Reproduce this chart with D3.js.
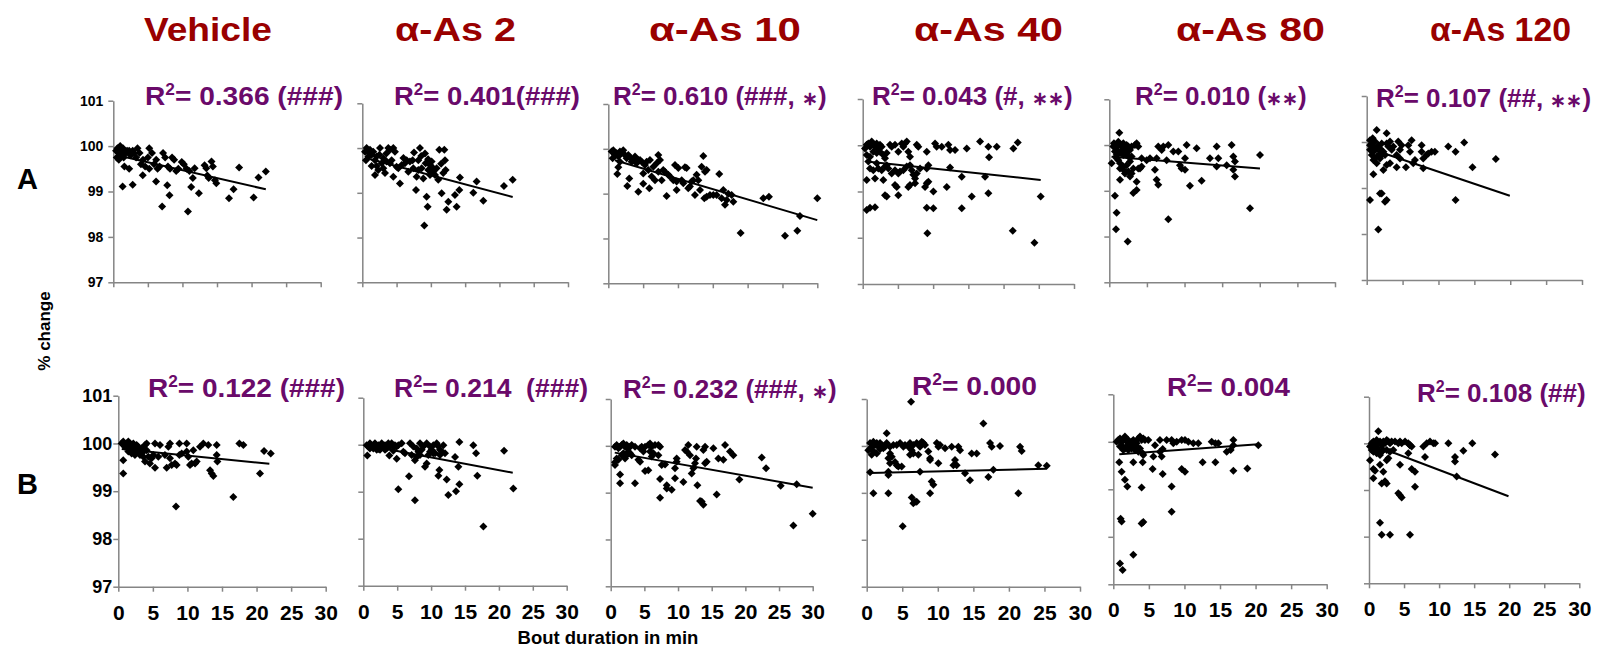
<!DOCTYPE html>
<html>
<head>
<meta charset="utf-8">
<script src="https://cdn.jsdelivr.net/npm/d3@7"></script>
<style>
  body { margin: 0; background: #fff; }
  svg { display: block; font-family: "Liberation Sans", Arial, sans-serif; font-weight: bold; }
</style>
</head>
<body>
<div id="chart"></div>
<script>
// Column titles, row labels and R² annotations
const titles = ["Vehicle", "α-As 2", "α-As 10", "α-As 40", "α-As 80", "α-As 120"];
const rowLabels = ["A", "B"];
const r2A = ["= 0.366 (###)", "= 0.401(###)", "= 0.610 (###, ∗)", "= 0.043 (#, ∗∗)", "= 0.010 (∗∗)", "= 0.107 (##, ∗∗)"];
const r2B = ["= 0.122 (###)", "= 0.214  (###)", "= 0.232 (###, ∗)", "= 0.000", "= 0.004", "= 0.108 (##)"];
const xTicks = [0, 5, 10, 15, 20, 25, 30];
const yTicks = [97, 98, 99, 100, 101];

// Trend lines: [intercept, slope, xFrom, xTo]
const fitsA = [[99.82, -0.035, 0.4, 22.06], [99.80, -0.0408, 0.4, 21.93], [99.79, -0.046, 0.96, 30],
               [99.66, -0.0162, 0.57, 25.27], [99.75, -0.0132, 0.3, 20.03], [99.88, -0.0526, 0.5, 19.94]];
const fitsB = [[99.89, -0.0145, 0.5, 21.85], [100.0, -0.027, 0.5, 22.04], [99.87, -0.0255, 0.6, 30],
               [99.42, 0.0036, 0.47, 25.32], [99.73, 0.0107, 0.84, 20.39], [100.0, -0.057, 0.14, 19.9]];

// Scatter points [bout duration (min), % change]
const vehA = [[0.4,99.9],[0.6,99.95],[0.8,99.85],[1.0,100.0],[1.2,99.9],[1.4,99.95],[0.5,99.75],[0.8,99.7],[1.1,99.8],[1.5,99.75],
  [1.8,99.85],[2.0,99.9],[2.3,99.9],[2.5,99.8],[2.8,99.9],[3.0,99.85],[3.3,99.75],[3.5,99.95],[3.8,99.85],[4.0,99.6],
  [4.3,99.7],[4.6,99.55],[5.0,99.75],[5.2,99.95],[5.6,99.85],[5.9,99.6],[6.2,99.7],[6.4,99.5],[6.7,99.55],[7.2,99.85],
  [7.5,99.75],[7.9,99.55],[8.2,99.5],[8.5,99.75],[8.8,99.7],[9.1,99.45],[9.4,99.5],[9.9,99.65],[10.2,99.6],[10.6,99.5],
  [11.0,99.45],[11.76,99.51],[13.2,99.58],[13.45,99.51],[13.8,99.3],[14.2,99.66],[14.4,99.55],[14.7,99.25],[14.9,99.18],
  [1.35,99.11],[2.8,99.15],[1.6,99.55],[2.3,99.5],[4.26,99.36],[5.2,99.5],[6.19,99.22],[7.8,99.14],[8.13,98.92],[7.06,98.67],
  [10.8,98.56],[11.27,99.1],[11.5,99.3],[12.38,98.96],[13.6,99.35],[16.74,98.85],[17.4,99.05],[18.2,99.53],[20.3,98.87],
  [21.0,99.31],[22.06,99.44]];
const as2A = [[0.39,99.92],[0.63,100.0],[1.12,99.96],[0.53,99.73],[0.88,99.81],[1.36,99.85],[1.6,99.92],[1.85,99.73],[2.09,99.81],
  [1.85,99.4],[2.33,99.51],[2.58,100.0],[2.82,99.66],[3.06,99.77],[3.31,99.44],[3.55,99.7],[3.79,100.0],[4.03,99.96],[4.28,99.73],
  [4.52,100.0],[4.76,99.92],[5.0,99.58],[5.25,99.55],[5.49,99.21],[4.52,99.36],[5.74,99.62],[6.22,99.66],[6.47,99.73],[6.71,99.47],
  [6.95,99.7],[7.34,99.73],[7.54,99.9],[7.83,99.06],[7.92,99.36],[8.17,99.73],[8.41,100.0],[8.65,99.55],[8.9,99.32],[9.14,99.88],
  [9.24,99.66],[9.38,98.91],[9.53,98.69],[9.04,98.27],[9.63,99.51],[9.87,99.62],[10.11,99.7],[10.36,99.47],[10.6,99.4],[10.84,99.55],
  [11.08,99.29],[11.23,99.96],[11.57,98.99],[11.81,99.44],[11.96,99.96],[12.06,99.73],[12.15,99.51],[12.3,98.62],[12.54,98.8],
  [13.51,98.95],[13.76,98.69],[14.15,99.06],[14.24,99.34],[16.19,99.0],[16.67,99.25],[17.65,98.82],[20.66,99.15],[21.93,99.29],
  [1.36,99.6],[2.09,99.6],[3.06,99.55],[4.03,99.66],[7.44,99.55],[8.17,99.51],[9.87,99.4],[10.36,99.55],[0.9,99.9],[2.5,99.85],
  [3.5,99.88],[6.0,99.78],[8.6,99.82],[9.6,99.75],[11.5,99.65]];
const as10A = [[0.48,99.94],[0.72,99.97],[0.96,99.86],[0.62,99.79],[1.2,99.9],[1.44,99.83],[1.67,99.94],[1.91,99.9],[2.15,99.97],
  [1.67,99.71],[1.44,99.59],[1.29,99.44],[2.39,99.86],[2.63,99.79],[2.87,99.86],[2.73,99.17],[3.11,99.81],[3.35,99.71],[3.01,99.34],
  [3.59,99.75],[3.83,99.83],[4.07,99.68],[4.31,99.04],[4.31,99.75],[4.55,99.75],[4.78,99.71],[5.02,99.45],[5.02,99.22],[5.26,99.64],
  [5.5,99.71],[5.74,99.53],[5.89,99.12],[5.98,99.75],[6.22,99.38],[6.46,99.6],[6.7,99.3],[6.94,99.68],[7.18,99.86],[7.18,99.49],
  [7.42,99.75],[7.66,99.3],[7.89,99.53],[8.13,99.49],[8.37,98.95],[8.61,99.42],[8.85,99.38],[9.33,99.3],[9.57,99.64],[9.81,99.08],
  [9.81,99.27],[10.05,99.57],[10.53,99.3],[10.77,99.23],[11.0,99.59],[11.24,99.57],[11.48,99.12],[11.72,99.16],[11.96,99.27],
  [12.2,99.3],[12.44,98.97],[12.68,99.42],[12.92,99.3],[13.16,99.08],[13.4,99.6],[13.64,99.84],[13.78,98.9],[14.11,98.93],
  [13.88,99.49],[14.11,99.53],[14.59,98.97],[15.07,98.97],[15.55,98.97],[15.93,99.44],[16.27,98.9],[16.51,99.08],[16.75,98.75],
  [16.99,98.86],[17.22,99.0],[17.7,98.97],[17.94,98.82],[18.99,98.12],[22.25,98.9],[23.06,98.93],[25.36,98.06],[27.13,98.17],
  [27.51,98.5],[30.0,98.9]];
const as40A = [[0.33,99.93],[0.57,100.01],[0.8,100.04],[1.04,99.97],[1.28,100.08],[1.51,100.01],[1.75,99.97],[1.99,100.04],[2.22,99.93],
  [2.46,100.01],[2.7,99.97],[0.57,99.79],[1.04,99.75],[1.51,99.86],[1.99,99.83],[2.46,99.86],[2.93,99.79],[3.17,99.72],[3.41,99.83],
  [3.88,100.01],[4.12,99.97],[4.59,100.01],[5.06,99.86],[5.54,100.04],[5.77,99.97],[6.01,100.04],[6.25,100.08],[6.48,99.86],
  [6.72,99.75],[7.67,100.01],[7.9,99.97],[9.09,99.86],[10.27,100.04],[10.5,99.97],[11.22,99.97],[12.16,100.01],[12.4,99.9],
  [13.11,99.9],[14.77,99.93],[16.66,100.08],[17.84,99.97],[19.03,99.97],[21.39,99.93],[22.01,100.06],[0.8,99.65],[1.04,99.5],
  [1.51,99.46],[1.99,99.61],[2.22,99.5],[2.7,99.46],[3.17,99.54],[3.41,99.57],[3.64,99.5],[4.12,99.39],[4.59,99.46],[5.06,99.39],
  [5.3,99.43],[5.77,99.46],[6.25,99.54],[6.72,99.57],[6.96,99.46],[7.19,99.36],[7.43,99.28],[7.67,99.39],[8.14,99.5],[9.09,99.5],
  [9.32,99.57],[12.4,99.52],[14.06,99.32],[17.37,99.32],[17.94,99.74],[0.57,99.25],[1.75,99.28],[2.93,99.25],[4.59,99.14],
  [4.83,99.1],[6.48,99.1],[6.72,99.14],[7.43,99.18],[8.85,99.1],[9.09,99.18],[9.32,99.21],[11.93,99.1],[3.17,98.92],[3.41,98.89],
  [5.06,98.92],[10.03,99.0],[15.48,98.89],[17.84,98.96],[25.27,98.89],[0.57,98.6],[1.04,98.65],[1.75,98.66],[9.09,98.65],
  [10.03,98.64],[14.06,98.64],[9.18,98.1],[21.3,98.15],[24.38,97.89]];
const as80A = [[0.31,99.6],[0.53,99.97],[0.62,100.04],[0.75,100.0],[0.97,99.97],[1.2,100.07],[1.42,100.0],[1.64,99.97],[1.86,100.04],
  [2.08,99.93],[2.3,100.0],[2.53,99.97],[2.75,99.89],[2.97,99.97],[3.41,100.0],[3.63,100.04],[3.85,99.97],[0.75,99.86],[0.97,99.78],
  [1.2,99.86],[1.42,99.82],[1.64,99.86],[1.86,99.78],[2.08,99.86],[2.3,99.82],[2.53,99.75],[1.2,99.67],[1.42,99.6],[0.97,99.71],
  [1.33,100.27],[2.97,99.75],[4.3,99.71],[4.96,99.67],[5.41,99.71],[6.29,99.71],[6.51,99.97],[6.96,99.89],[7.18,99.97],[7.84,100.0],
  [7.62,99.67],[8.51,99.86],[9.17,99.86],[9.39,99.56],[9.61,99.49],[10.06,99.46],[10.06,99.71],[10.28,100.0],[11.61,99.93],
  [13.38,99.71],[14.27,99.97],[14.49,99.71],[14.27,99.53],[15.6,99.56],[16.26,100.0],[16.48,99.75],[16.7,99.64],[16.48,99.46],
  [16.7,99.31],[20.03,99.78],[1.86,99.46],[2.08,99.38],[2.53,99.42],[2.75,99.31],[2.97,99.38],[3.19,99.49],[3.63,99.2],[3.85,99.49],
  [4.08,99.49],[4.3,99.53],[1.42,99.24],[3.63,99.02],[3.19,98.95],[0.75,98.89],[0.97,98.52],[0.89,98.16],[2.44,97.89],[6.07,99.46],
  [6.29,99.24],[6.51,99.13],[7.84,98.38],[10.72,99.11],[12.27,99.22],[18.7,98.62],[1.86,99.53],[2.3,99.56],[2.75,99.64],[1.42,99.49]];
const as120A = [[0.46,100.04],[0.46,99.93],[0.7,99.97],[0.93,99.9],[1.16,100.01],[1.39,100.26],[0.93,99.79],[0.7,99.72],[1.16,99.83],
  [1.39,99.68],[1.62,99.93],[1.85,99.86],[2.09,99.97],[2.32,99.79],[2.55,99.72],[2.78,100.19],[2.78,99.97],[3.01,99.9],[3.25,100.01],
  [3.48,99.83],[3.71,99.9],[4.17,99.72],[4.4,100.01],[4.64,99.83],[4.87,99.93],[4.64,99.64],[0.93,99.61],[1.39,99.54],[1.85,99.64],
  [2.32,99.39],[2.78,99.5],[3.25,99.54],[4.17,99.45],[5.47,99.45],[5.8,99.93],[6.03,99.79],[6.26,100.04],[6.49,99.54],[6.72,99.61],
  [7.65,99.93],[7.65,99.79],[7.88,99.64],[7.88,99.43],[8.34,99.72],[8.58,99.75],[9.04,99.79],[9.5,99.79],[11.36,99.9],[12.38,99.79],
  [13.58,99.99],[14.74,99.45],[17.99,99.63],[0.93,99.3],[0.46,98.74],[1.85,98.88],[2.09,98.88],[2.55,98.7],[2.78,98.74],
  [12.38,98.74],[1.62,98.1],[0.46,99.83],[0.83,100.08],[1.39,99.86],[1.85,99.75],[2.09,99.72]];

const vehB = [[0.48,100.0],[0.72,100.04],[0.96,99.97],[1.21,100.0],[1.45,100.04],[1.69,100.0],[1.93,99.97],[2.17,100.0],[0.72,99.65],
  [0.72,99.37],[0.96,99.93],[1.21,99.93],[1.69,99.93],[2.17,99.9],[2.41,99.86],[2.65,99.97],[2.89,99.93],[3.14,99.86],[3.38,99.9],
  [3.62,99.83],[3.62,99.72],[3.86,99.62],[3.86,99.97],[4.1,100.0],[4.34,99.72],[4.58,99.58],[4.82,99.69],[5.07,99.76],[5.31,100.0],
  [5.31,99.49],[5.79,99.72],[6.03,99.97],[6.75,99.76],[7.0,99.49],[7.24,99.93],[7.48,100.0],[7.48,99.69],[7.72,99.55],[8.2,99.58],
  [8.44,99.55],[8.83,100.0],[8.83,99.76],[8.35,98.68],[9.17,99.79],[9.89,100.0],[9.89,99.83],[10.13,99.72],[10.37,99.55],
  [10.61,99.58],[10.85,99.86],[11.1,99.58],[11.34,99.62],[11.82,99.93],[12.3,100.0],[13.02,99.97],[13.27,99.44],[13.51,99.37],
  [13.75,99.32],[14.23,99.97],[14.23,99.76],[14.33,99.62],[16.64,98.88],[17.51,100.0],[18.09,99.97],[20.5,99.37],[21.08,99.84],
  [22.05,99.79],[1.45,99.83],[1.93,99.79],[2.41,99.76],[2.89,99.83],[3.14,99.76],[3.38,99.79],[4.1,99.86]];
const as2B = [[0.49,99.99],[0.74,99.96],[0.98,100.03],[1.23,99.99],[1.48,99.92],[1.72,100.03],[1.97,99.96],[2.21,99.99],[2.46,99.92],
  [2.71,100.03],[2.95,99.96],[3.2,99.99],[3.44,99.92],[3.69,100.03],[3.94,99.96],[4.18,100.03],[4.43,99.96],[4.67,99.99],[4.92,99.96],
  [5.16,99.99],[5.66,100.03],[0.59,99.77],[1.97,99.89],[2.46,99.89],[3.2,99.89],[3.84,99.77],[4.43,99.87],[4.92,99.7],[5.16,99.05],
  [5.9,99.85],[6.15,99.82],[6.74,99.33],[6.89,100.03],[7.13,99.78],[7.38,99.96],[7.62,99.67],[7.62,98.82],[7.87,99.92],[8.12,99.85],
  [8.36,100.03],[8.61,99.89],[8.85,99.96],[9.1,99.53],[9.35,100.03],[9.35,99.6],[9.59,99.78],[9.84,99.96],[10.08,99.89],[10.33,99.99],
  [10.58,99.82],[10.82,100.03],[11.07,99.34],[11.07,99.96],[11.22,99.46],[11.31,99.89],[11.56,99.85],[11.81,99.99],[12.05,99.82],
  [12.3,99.26],[12.54,98.93],[13.53,99.74],[13.67,99.01],[14.02,99.53],[14.17,100.06],[14.17,99.16],[16.23,99.99],[16.63,99.82],
  [16.82,99.34],[17.71,98.26],[20.76,99.87],[22.13,99.07],[0.98,99.92],[1.48,99.98],[2.21,99.91],[7.87,99.74],[8.36,99.78],
  [9.84,99.85],[10.33,99.82],[11.31,99.78]];
const as10B = [[0.64,99.98],[0.89,100.02],[1.14,99.95],[1.39,99.98],[1.63,100.02],[1.88,100.05],[2.13,99.98],[2.38,100.02],[2.62,99.95],
  [2.87,99.98],[3.12,100.02],[3.61,99.98],[4.36,99.95],[4.6,99.98],[5.1,99.98],[5.59,100.02],[5.84,100.05],[6.09,99.98],[6.58,100.02],
  [7.08,100.02],[7.33,99.98],[0.64,99.65],[0.64,99.59],[1.14,99.7],[1.39,99.39],[1.39,99.2],[0.89,99.73],[1.63,99.8],[1.88,99.84],
  [2.13,99.73],[2.38,99.8],[2.62,99.88],[2.87,99.84],[3.12,99.8],[3.61,99.2],[4.11,99.7],[4.36,99.66],[4.85,99.88],[5.1,99.46],
  [5.59,99.48],[5.84,99.88],[6.09,99.77],[6.34,99.84],[7.08,99.8],[7.33,99.29],[7.33,98.89],[7.57,99.59],[8.07,99.6],[8.32,99.09],
  [8.32,99.16],[9.06,99.06],[9.55,99.31],[9.55,99.52],[9.8,99.66],[9.8,99.73],[10.79,99.23],[11.04,99.91],[11.29,99.88],[11.53,100.02],
  [11.78,99.8],[12.03,99.41],[12.28,99.52],[12.52,99.63],[12.67,99.73],[12.77,99.98],[12.87,99.16],[13.27,98.82],[13.51,98.81],
  [13.76,98.74],[13.76,99.91],[14.01,99.98],[14.01,99.63],[14.26,99.66],[15.25,99.95],[15.74,98.96],[15.99,99.73],[16.73,99.7],
  [16.98,100.02],[17.72,99.88],[18.22,99.8],[19.11,99.28],[22.43,99.75],[23.07,99.52],[25.25,99.15],[27.62,99.18],[27.13,98.3],
  [30.0,98.55]];
const as40B = [[0.23,99.91],[0.47,100.06],[0.7,99.98],[0.94,100.09],[1.17,100.02],[1.41,100.06],[1.64,99.98],[1.88,100.06],[2.11,100.02],
  [2.34,99.95],[2.58,99.98],[2.81,100.06],[3.28,99.98],[3.75,100.02],[4.22,100.02],[4.69,100.06],[5.16,99.98],[5.39,100.02],
  [5.86,99.98],[6.09,100.06],[6.56,100.02],[7.03,100.06],[7.5,99.98],[7.74,100.09],[7.97,100.06],[8.2,100.02],[0.7,99.81],
  [0.94,99.89],[1.41,99.84],[1.88,99.93],[2.81,100.27],[3.05,99.74],[3.28,99.84],[3.52,99.77],[3.98,99.66],[4.22,99.59],[4.45,99.56],
  [4.92,99.56],[0.47,99.44],[0.94,98.99],[3.05,99.45],[3.05,98.99],[3.05,99.38],[3.28,99.63],[6.09,99.81],[6.33,99.91],[6.24,100.94],
  [6.56,99.84],[7.27,99.81],[7.5,99.45],[8.67,99.88],[8.91,99.74],[8.91,99.7],[9.14,99.24],[9.38,99.17],[8.91,98.99],[9.85,100.06],
  [10.08,99.98],[10.31,100.02],[10.08,99.63],[11.02,99.95],[11.95,99.98],[12.19,99.59],[12.42,99.7],[12.66,99.59],[12.89,99.98],
  [13.13,99.91],[13.83,99.42],[14.53,99.27],[14.77,99.84],[15.47,99.84],[16.41,100.48],[17.11,99.34],[17.35,100.06],[17.58,99.98],
  [17.82,99.49],[18.75,100.0],[21.33,98.99],[21.57,99.98],[21.8,99.89],[24.14,99.59],[25.32,99.58],[6.33,98.9],[6.56,98.78],
  [6.8,98.81],[7.03,98.81],[5.06,98.29]];
const as80B = [[0.47,100.0],[0.7,100.04],[0.94,100.07],[1.17,100.0],[1.41,100.04],[1.64,100.11],[1.88,100.0],[2.11,100.04],[2.34,99.97],
  [2.58,100.0],[2.81,100.04],[3.05,100.0],[3.28,99.97],[3.52,100.07],[3.75,100.11],[3.98,100.04],[4.22,100.07],[4.45,100.04],
  [4.92,100.04],[5.86,99.93],[6.56,100.04],[7.5,100.04],[8.2,100.04],[8.44,99.97],[8.91,100.0],[9.61,100.04],[10.08,100.04],
  [10.55,100.0],[11.25,99.97],[11.95,99.97],[13.83,100.0],[14.35,99.97],[14.77,99.97],[16.88,100.04],[16.88,99.93],[0.94,99.9],
  [1.17,99.93],[1.41,99.83],[1.64,99.86],[1.88,99.9],[2.11,99.83],[2.34,99.9],[2.58,99.86],[2.81,99.93],[3.05,99.83],[3.28,99.9],
  [3.52,99.79],[3.75,99.86],[4.13,99.76],[4.22,99.72],[5.63,99.69],[6.56,99.79],[6.8,99.69],[6.94,99.85],[15.94,99.79],[16.5,99.83],
  [20.39,99.93],[0.84,99.57],[1.17,99.37],[1.64,99.2],[1.97,99.06],[2.81,99.57],[4.13,99.57],[3.98,99.04],[5.53,99.43],[6.94,99.32],
  [8.2,99.06],[8.2,98.53],[9.61,99.43],[10.08,99.37],[12.56,99.57],[14.35,99.57],[16.88,99.39],[18.85,99.44],[1.03,98.38],
  [1.17,98.32],[3.98,98.28],[4.22,98.31],[2.81,97.62],[0.94,97.44],[1.31,97.3]];
const as120B = [[0.14,99.93],[0.38,100.0],[0.62,100.04],[0.86,99.96],[1.09,100.07],[1.33,100.0],[1.57,100.04],[1.81,99.96],[2.04,100.04],
  [2.28,100.0],[2.52,100.07],[2.76,100.04],[3.0,100.0],[3.23,100.04],[3.71,100.04],[4.18,100.0],[4.42,100.04],[4.66,100.0],
  [5.14,100.04],[5.61,100.0],[5.85,99.96],[0.38,99.86],[0.62,99.82],[0.86,99.89],[1.09,99.79],[1.33,99.86],[1.57,99.75],[1.81,99.82],
  [2.04,99.86],[2.52,99.86],[3.0,99.82],[3.47,99.86],[1.33,100.26],[0.14,99.64],[0.62,99.45],[0.86,99.41],[0.62,99.25],[1.57,99.54],
  [2.04,99.39],[1.81,99.14],[2.28,99.19],[2.52,99.14],[2.52,99.64],[2.76,99.68],[4.42,99.54],[4.18,98.93],[4.42,98.89],[4.66,98.84],
  [5.61,99.79],[5.85,99.96],[6.09,99.93],[6.09,99.45],[6.56,99.39],[6.56,99.07],[7.75,99.93],[7.99,99.71],[8.23,100.0],[8.7,100.04],
  [9.18,100.0],[9.42,100.0],[11.32,100.0],[12.27,99.71],[12.27,99.61],[12.51,99.29],[13.46,99.84],[14.74,100.0],[17.97,99.76],
  [1.57,98.3],[1.81,98.04],[3.0,98.04],[5.85,98.04]];

const seriesA = [vehA, as2A, as10A, as40A, as80A, as120A];
const seriesB = [vehB, as2B, as10B, as40B, as80B, as120B];

// Layout of each plot frame: [left, right, y of 101, y of 97]
const framesA = [[113.3, 320.7, 100.7, 282.3], [362.3, 568, 103.3, 282.3], [608.3, 817.3, 104, 283.3],
                 [862.7, 1074, 99, 284], [1109.3, 1335, 99.3, 282.3], [1366.7, 1582, 96, 280]];
const framesB = [[118.3, 325.7, 395.7, 586.7], [363.3, 566.7, 397.7, 585.7], [610.7, 812.7, 399, 586.3],
                 [866.7, 1080, 399, 586.7], [1113.3, 1326.7, 394.3, 584.3], [1369, 1579.3, 396.7, 583.3]];
// R² label placement: [x, baseline, width or null]
const r2PosA = [[145, 105, 198], [394, 105, 186], [613, 105, null], [872, 105, null], [1135, 105, null], [1376, 107, null]];
const r2PosB = [[148, 397, 197], [394, 397, 194], [623, 398, null], [912, 395, 125], [1167, 396, 123], [1417, 402, null]];
// Column title placement: [left, width]
const titlePos = [[144, 128], [395, 121], [649, 152], [914, 149], [1176, 149], [1430, 141]];

const width = 1610, height = 650;
const axisColor = "#858585";
const titleColor = "#990000";
const r2Color = "#6a0a6a";

const svg = d3.select("#chart").append("svg")
  .attr("width", width)
  .attr("height", height);

// Column titles
svg.selectAll(".title")
  .data(titles)
  .enter()
  .append("text")
  .attr("class", "title")
  .attr("x", (d, i) => titlePos[i][0])
  .attr("y", 41)
  .attr("textLength", (d, i) => titlePos[i][1])
  .attr("lengthAdjust", "spacingAndGlyphs")
  .attr("fill", titleColor)
  .style("font-size", "33px")
  .text(d => d);

// Row letters
svg.selectAll(".row-label")
  .data(rowLabels)
  .enter()
  .append("text")
  .attr("class", "row-label")
  .attr("x", 17)
  .attr("y", (d, i) => i === 0 ? 189 : 494)
  .style("font-size", "29px")
  .text(d => d);

// Axis titles
svg.append("text")
  .attr("transform", "translate(50,331) rotate(-90)")
  .attr("text-anchor", "middle")
  .style("font-size", "17px")
  .text("% change");

svg.append("text")
  .attr("x", 608)
  .attr("y", 644)
  .attr("text-anchor", "middle")
  .style("font-size", "18.5px")
  .text("Bout duration in min");

const diamond = d3.symbol().type(d3.symbolSquare).size(32);

function drawPanel(row, col, data, fit, frame, r2text, r2pos) {
  const [left, right, yTop, yBottom] = frame;
  const x = d3.scaleLinear().domain([0, 30]).range([left, right]);
  const y = d3.scaleLinear().domain([97, 101]).range([yBottom, yTop]);
  const g = svg.append("g").attr("class", `panel r${row} c${col}`);

  // y axis
  const yAxis = d3.axisLeft(y)
    .tickValues(yTicks)
    .tickSize(5)
    .tickSizeOuter(0)
    .tickPadding(row === 0 ? 5 : 1)
    .tickFormat(col === 0 ? d3.format("d") : () => "");
  const gy = g.append("g")
    .attr("transform", `translate(${left},0)`)
    .call(yAxis);
  gy.selectAll("text")
    .attr("fill", "#000")
    .style("font-size", row === 0 ? "14px" : "18px")
    .style("font-family", "'Liberation Sans', Arial, sans-serif")
    .style("font-weight", "bold");

  // x axis
  const xAxis = d3.axisBottom(x)
    .tickValues(xTicks)
    .tickSize(5)
    .tickSizeOuter(0)
    .tickPadding(13)
    .tickFormat(row === 1 ? d3.format("d") : () => "");
  const gx = g.append("g")
    .attr("transform", `translate(0,${yBottom})`)
    .call(xAxis);
  gx.selectAll("text")
    .attr("fill", "#000")
    .attr("dy", "0.71em")
    .style("font-size", "21px")
    .style("font-family", "'Liberation Sans', Arial, sans-serif")
    .style("font-weight", "bold");

  g.selectAll(".domain, .tick line")
    .attr("stroke", axisColor)
    .attr("stroke-width", 1.5);

  // points
  g.append("g")
    .selectAll("path")
    .data(data)
    .enter()
    .append("path")
    .attr("d", diamond)
    .attr("transform", d => `translate(${x(d[0])},${y(d[1])}) rotate(45)`)
    .attr("fill", "#000");

  // trend line
  const [b0, b1, x0, x1] = fit;
  g.append("line")
    .attr("x1", x(x0)).attr("y1", y(b0 + b1 * x0))
    .attr("x2", x(x1)).attr("y2", y(b0 + b1 * x1))
    .attr("stroke", "#000")
    .attr("stroke-width", 2);

  // R² label; asterisks are set a little smaller than the rest
  const t = svg.append("text")
    .attr("x", r2pos[0])
    .attr("y", r2pos[1])
    .attr("fill", r2Color)
    .style("font-size", "26px")
    .style("white-space", "pre");
  if (r2pos[2]) {
    t.attr("textLength", r2pos[2]).attr("lengthAdjust", "spacingAndGlyphs");
  }
  t.append("tspan").text("R");
  t.append("tspan").attr("dy", -10).style("font-size", "16px").text("2");
  const parts = r2text.split(/(∗+)/).filter(s => s.length);
  parts.forEach((s, k) => {
    const sp = t.append("tspan").text(s);
    if (k === 0) sp.attr("dy", 10);
    if (s[0] === "∗") sp.style("font-size", "19px");
  });
}

seriesA.forEach((data, i) => drawPanel(0, i, data, fitsA[i], framesA[i], r2A[i], r2PosA[i]));
seriesB.forEach((data, i) => drawPanel(1, i, data, fitsB[i], framesB[i], r2B[i], r2PosB[i]));
</script>
</body>
</html>
